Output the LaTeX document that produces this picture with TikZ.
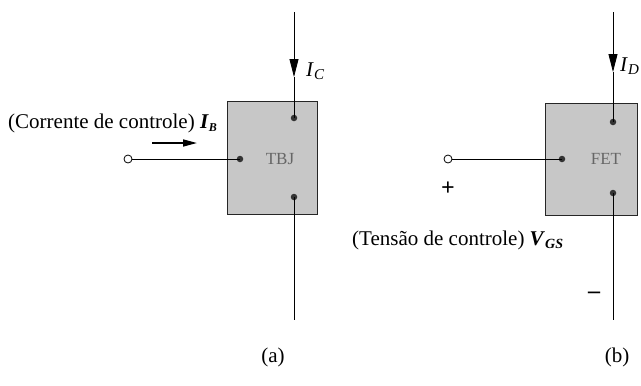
\documentclass[tikz,border=0pt]{standalone}
\usepackage{fontspec}
\setmainfont{Liberation Serif}
\usetikzlibrary{arrows.meta}
\begin{document}
\begin{tikzpicture}[x=1pt,y=-1pt,
  wire/.style={line width=0.8pt},
  box/.style={draw=black!85,line width=0.9pt,fill=black!22},
  dot/.style={circle,fill=black!80,inner sep=0pt,minimum size=6.5pt},
  opendot/.style={circle,draw=black,fill=white,line width=0.8pt,inner sep=0pt,minimum size=8pt},
  lbl/.style={font=\fontsize{21}{24}\selectfont,inner sep=0pt},
  sgn/.style={font=\fontsize{24}{26}\selectfont\bfseries,inner sep=0pt},
  devlbl/.style={font=\fontsize{17}{20}\selectfont,text=black!60,inner sep=0pt},
  midarrow/.style={wire,-{Triangle[length=18pt,width=9pt]}},
  flowarrow/.style={line width=1.6pt,-{Triangle[length=14pt,width=7pt]}}
]
\path[use as bounding box] (0,0) rectangle (641,386);

% ---------------- (a) TBJ ----------------
\node[box,minimum width=90pt,minimum height=113pt,inner sep=0pt] (tbj) at (272,157.5) {};
\node[devlbl] (tbjl) at (280,159) {TBJ};
\coordinate (ctop) at (294,12);
\coordinate (carr) at (294,77);
\node[dot] (cdot) at (294,118) {};
\node[dot] (edot) at (294,197) {};
\coordinate (ebot) at (294,320);
\node[dot] (bdot) at (240,159) {};
\node[opendot] (bin) at (128,159) {};
\draw[midarrow] (ctop) -- (carr);
\draw[wire] (carr) -- (cdot.center);
\draw[wire] (edot.center) -- (ebot);
\draw[wire] (bin) -- (bdot.center);
\node[lbl,anchor=west] (ic) at (306,71) {\textit{I}\raisebox{-0.35ex}{\fontsize{15}{15}\selectfont\textit{C}}};
\node[lbl,anchor=west] (ibl) at (8,123) {(Corrente de controle) \textbf{\textit{I}}\raisebox{-0.35ex}{\fontsize{12}{12}\selectfont\textbf{\textit{B}}}};
\coordinate (ibs) at (152,143);
\coordinate (ibe) at (197,143);
\draw[flowarrow] (ibs) -- (ibe);
\node[lbl] (la) at (273,357) {(a)};

% ---------------- (b) FET ----------------
\node[box,minimum width=92pt,minimum height=112pt,inner sep=0pt] (fet) at (591,159) {};
\node[devlbl] (fetl) at (606,159) {FET};
\coordinate (dtop) at (613,12);
\coordinate (darr) at (613,72);
\node[dot] (ddot) at (613,122) {};
\node[dot] (sdot) at (613,193) {};
\coordinate (sbot) at (613,320);
\node[dot] (gdot) at (562,159) {};
\node[opendot] (gin) at (448,159) {};
\draw[midarrow] (dtop) -- (darr);
\draw[wire] (darr) -- (ddot.center);
\draw[wire] (sdot.center) -- (sbot);
\draw[wire] (gin) -- (gdot.center);
\node[lbl,anchor=west] (id) at (620,66) {\textit{I}\raisebox{-0.35ex}{\fontsize{15}{15}\selectfont\textit{D}}};
\node[sgn] (plus) at (448,189) {+};
\node[sgn] (minus) at (594,295) {–};
\node[lbl,anchor=west] (vgs) at (352,240) {(Tensão de controle) \textbf{\textit{V}}\raisebox{-0.35ex}{\fontsize{14}{14}\selectfont\textbf{\textit{GS}}}};
\node[lbl] (lb) at (617,357) {(b)};
\end{tikzpicture}
\end{document}
